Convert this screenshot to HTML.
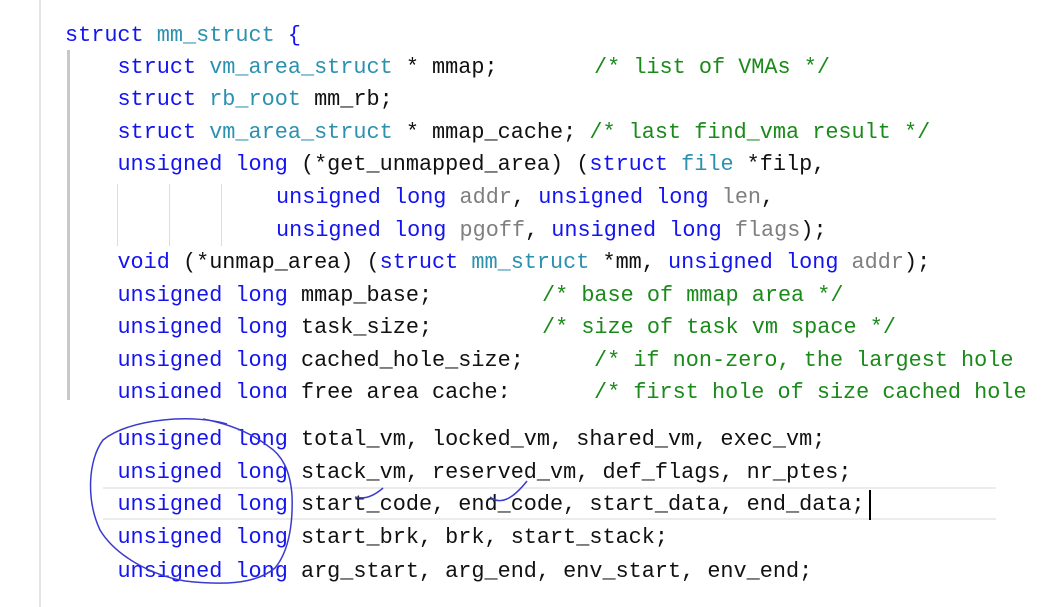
<!DOCTYPE html>
<html><head><meta charset="utf-8"><style>
html,body{margin:0;padding:0;background:#fff;width:1049px;height:607px;overflow:hidden;position:relative}
.l{position:absolute;left:65px;white-space:pre;font-family:"Liberation Mono",monospace;font-size:21.85px;line-height:32px;height:32px;color:#111}
.k{color:#1414f0}.t{color:#2b91af}.c{color:#1a8a1a}.p{color:#7f7f7f}
#top{position:absolute;left:0;top:0;width:1049px;height:398px;overflow:hidden}
</style></head><body>
<div style="position:absolute;left:39px;top:0;width:2px;height:607px;background:#e4e4e4"></div>
<div style="position:absolute;left:67px;top:50px;width:3px;height:350px;background:#c8c8c8"></div>
<div style="position:absolute;left:117px;top:184px;width:1px;height:62px;background:#ddd"></div>
<div style="position:absolute;left:169px;top:184px;width:1px;height:62px;background:#ddd"></div>
<div style="position:absolute;left:221px;top:184px;width:1px;height:62px;background:#ddd"></div>
<div style="position:absolute;left:103px;top:487px;width:893px;height:2px;background:#ececec"></div>
<div style="position:absolute;left:103px;top:518px;width:893px;height:2px;background:#ececec"></div>
<div id="top">
<div class="l" style="top:20px"><span class="k">struct</span> <span class="t">mm_struct</span> <span class="k">{</span></div>
<div class="l" style="top:52px">    <span class="k">struct</span> <span class="t">vm_area_struct</span> * mmap;</div>
<div class="l c" style="top:52px;left:594px">/* list of VMAs */</div>
<div class="l" style="top:84px">    <span class="k">struct</span> <span class="t">rb_root</span> mm_rb;</div>
<div class="l" style="top:117px">    <span class="k">struct</span> <span class="t">vm_area_struct</span> * mmap_cache; <span class="c">/* last find_vma result */</span></div>
<div class="l" style="top:149px">    <span class="k">unsigned long</span> (*get_unmapped_area) (<span class="k">struct</span> <span class="t">file</span> *filp,</div>
<div class="l" style="top:182px;left:276px"><span class="k">unsigned long</span> <span class="p">addr</span>, <span class="k">unsigned long</span> <span class="p">len</span>,</div>
<div class="l" style="top:215px;left:276px"><span class="k">unsigned long</span> <span class="p">pgoff</span>, <span class="k">unsigned long</span> <span class="p">flags</span>);</div>
<div class="l" style="top:247px">    <span class="k">void</span> (*unmap_area) (<span class="k">struct</span> <span class="t">mm_struct</span> *mm, <span class="k">unsigned long</span> <span class="p">addr</span>);</div>
<div class="l" style="top:280px">    <span class="k">unsigned long</span> mmap_base;</div>
<div class="l c" style="top:280px;left:542px">/* base of mmap area */</div>
<div class="l" style="top:312px">    <span class="k">unsigned long</span> task_size;</div>
<div class="l c" style="top:312px;left:542px">/* size of task vm space */</div>
<div class="l" style="top:345px">    <span class="k">unsigned long</span> cached_hole_size;</div>
<div class="l c" style="top:345px;left:594px">/* if non-zero, the largest hole</div>
<div class="l" style="top:377px">    <span class="k">unsigned long</span> free_area_cache;</div>
<div class="l c" style="top:377px;left:594px">/* first hole of size cached_hole</div>
</div>
<div class="l" style="top:424px">    <span class="k">unsigned long</span> total_vm, locked_vm, shared_vm, exec_vm;</div>
<div class="l" style="top:457px">    <span class="k">unsigned long</span> stack_vm, reserved_vm, def_flags, nr_ptes;</div>
<div class="l" style="top:489px">    <span class="k">unsigned long</span> start_code, end_code, start_data, end_data;</div>
<div style="position:absolute;left:869px;top:490px;width:2px;height:30px;background:#000"></div>
<div class="l" style="top:522px">    <span class="k">unsigned long</span> start_brk, brk, start_stack;</div>
<div class="l" style="top:556px">    <span class="k">unsigned long</span> arg_start, arg_end, env_start, env_end;</div>
<svg width="1049" height="607" style="position:absolute;left:0;top:0" fill="none" stroke="#3a3ad0" stroke-width="1.5">
<path d="M227,424 C195,414 130,418 103,440 C88,460 86,500 100,530 C115,555 150,575 185,581 C220,585 255,585 275,568 C290,550 293,520 292,495 C290,470 282,455 268,446 C255,436 235,425 203,419"/>
<path d="M355,497 C365,500 375,495 383,488"/>
<path d="M490,497 C500,505 512,500 527,481"/>
</svg>
</body></html>
